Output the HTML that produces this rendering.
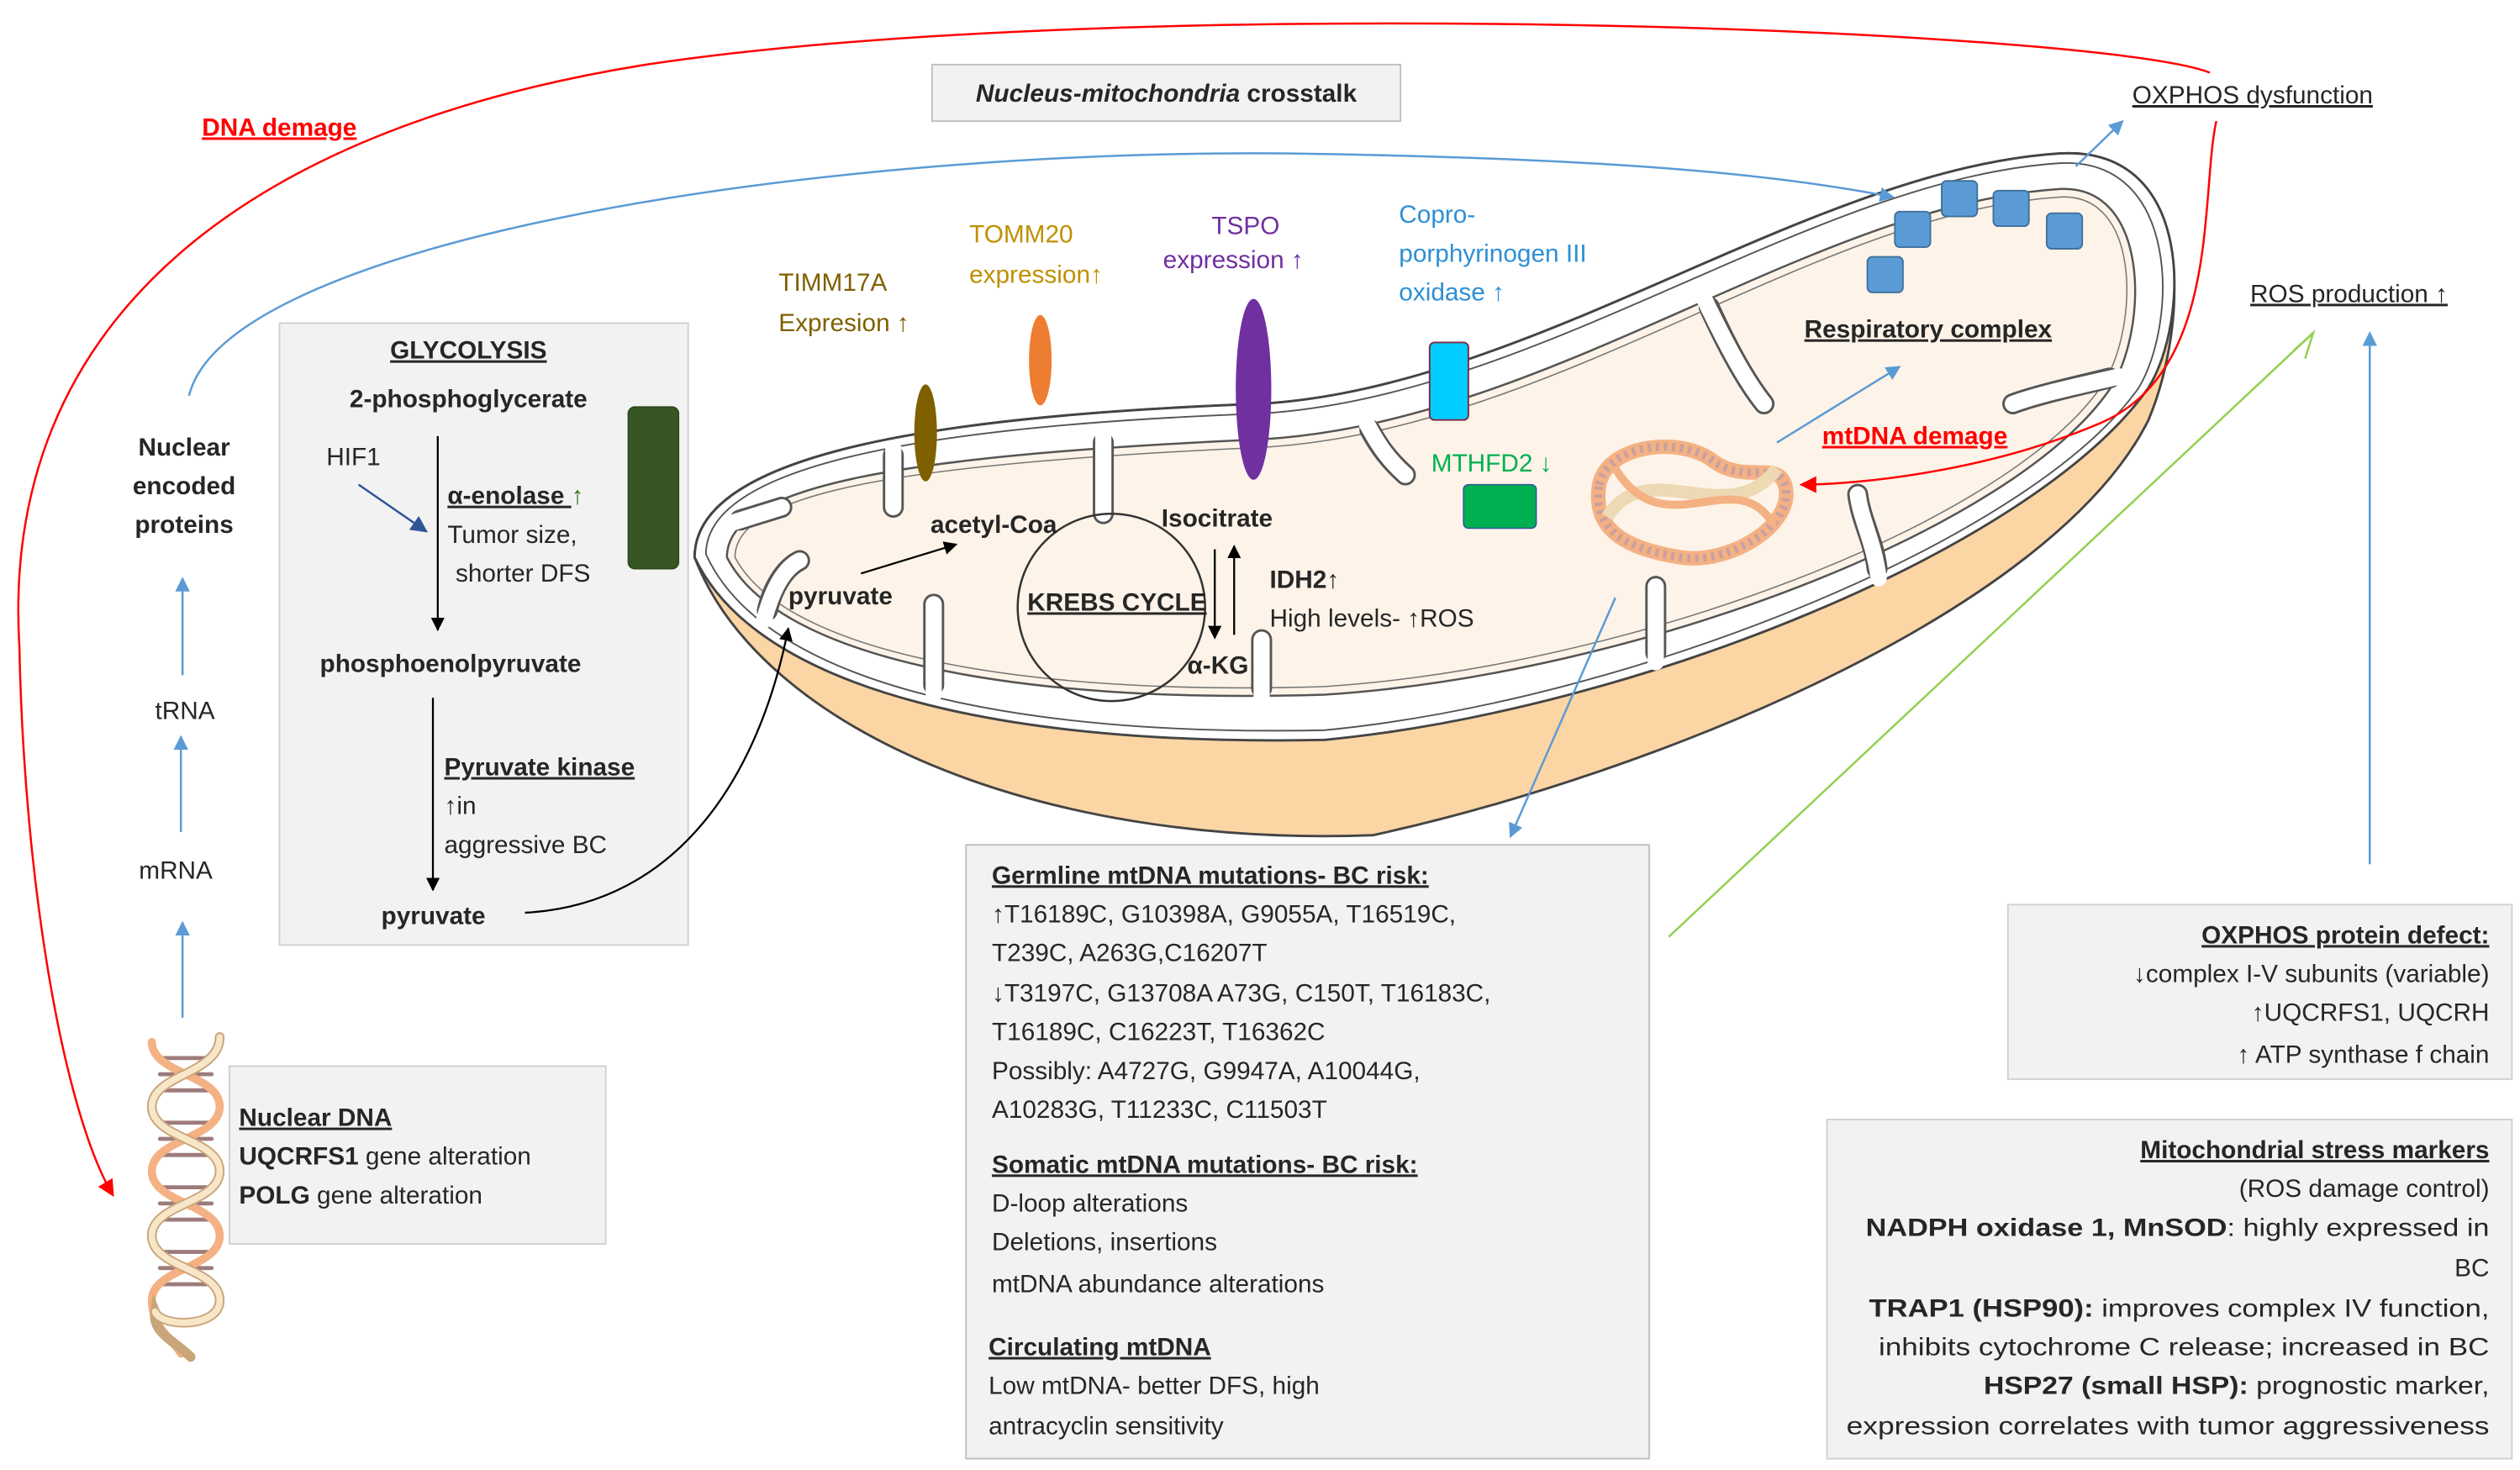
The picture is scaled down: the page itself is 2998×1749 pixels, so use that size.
<!DOCTYPE html>
<html><head><meta charset="utf-8"><style>
html,body{margin:0;padding:0;background:#fff;}
svg{display:block;}
text{font-family:"Liberation Sans",sans-serif;font-size:15.5px;fill:#262626;}
.b{font-weight:bold;}
.u{text-decoration:underline;}
</style></head><body>
<svg width="2998" height="1749" viewBox="0 0 1560 910" preserveAspectRatio="none" xmlns="http://www.w3.org/2000/svg">
<defs>
<marker id="ab" viewBox="0 0 10 10" refX="9" refY="5" markerWidth="7" markerHeight="7" orient="auto"><path d="M0,0L10,5L0,10z" fill="#5b9bd5"/></marker>
<marker id="ak" viewBox="0 0 10 10" refX="9" refY="5" markerWidth="7" markerHeight="7" orient="auto"><path d="M0,0L10,5L0,10z" fill="#000"/></marker>
<marker id="ar" viewBox="0 0 10 10" refX="9" refY="5" markerWidth="8" markerHeight="8" orient="auto"><path d="M0,0L10,5L0,10z" fill="#f00"/></marker>
<marker id="ad" viewBox="0 0 10 10" refX="9" refY="5" markerWidth="8" markerHeight="8" orient="auto"><path d="M0,0L10,5L0,10z" fill="#2f5597"/></marker>
</defs>

<!-- Mitochondrion -->
<path d="M430 345 C430 285,560 258,780 250 C950 240,1120 105,1275 95 C1360 90,1355 200,1330 260 C1270 380,1020 480,850 517 C640 525,470 450,430 345Z" fill="#fcd5a5" stroke="#444" stroke-width="1.5"/>
<path d="M430 345 C430 285,560 258,780 250 C950 240,1120 105,1275 95 C1360 90,1355 200,1330 240 C1260 340,1010 440,820 458 C630 462,470 430,430 345Z" fill="#fff" stroke="#444" stroke-width="1.5"/>
<path d="M437 343 C437 290,562 264,780 256 C953 246,1121 111,1275 101 C1350 97,1348 200,1324 240 C1257 335,1008 434,820 452 C632 456,474 425,437 343Z" fill="none" stroke="#555" stroke-width="1"/>
<!-- matrix -->
<path d="M450 345 C450 300,560 282,780 272 C960 262,1120 127,1275 117 C1330 114,1330 200,1308 238 C1250 328,1010 418,820 430 C630 436,482 408,450 345Z" fill="#fdf3e8" stroke="#555" stroke-width="1.3"/>
<path d="M455 345 C455 304,562 287,780 277 C962 267,1122 132,1275 122 C1325 119,1324 200,1303 236 C1246 324,1008 413,820 425 C632 431,486 404,455 345Z" fill="none" stroke="#777" stroke-width="0.8"/>
<!-- cristae -->
<g fill="none" stroke-linecap="round">
<g stroke="#555" stroke-width="13">
<path d="M553 282 L553 314"/>
<path d="M683 274 L683 318"/>
<path d="M848 266 C854 277,860 285,870 294"/>
<path d="M1058 190 C1068 212,1080 235,1092 250"/>
<path d="M458 322 L484 314"/>
<path d="M475 378 C478 365,485 352,495 347"/>
<path d="M578 424 L578 374"/>
<path d="M781 426 L781 396"/>
<path d="M1025 404 L1025 363"/>
<path d="M1162 352 C1160 335,1152 322,1150 306"/>
<path d="M1306 234 C1290 238,1262 244,1246 250"/>
</g>
<g stroke="#fff" stroke-width="10">
<path d="M553 278 L553 314"/>
<path d="M683 270 L683 318"/>
<path d="M846 262 C854 277,860 285,870 294"/>
<path d="M1055 185 C1068 212,1080 235,1092 250"/>
<path d="M452 324 L484 314"/>
<path d="M473 384 C478 365,485 352,495 347"/>
<path d="M578 430 L578 374"/>
<path d="M781 432 L781 396"/>
<path d="M1025 410 L1025 363"/>
<path d="M1163 358 C1160 335,1152 322,1150 306"/>
<path d="M1312 233 C1290 238,1262 244,1246 250"/>
</g>
</g>

<!-- respiratory squares -->
<g fill="#5b9bd5" stroke="#41719c" stroke-width="1">
<rect x="1156" y="159" width="22" height="22" rx="3"/>
<rect x="1173" y="131" width="22" height="22" rx="3"/>
<rect x="1202" y="112" width="22" height="22" rx="3"/>
<rect x="1234" y="118" width="22" height="22" rx="3"/>
<rect x="1267" y="132" width="22" height="22" rx="3"/>
</g>
<!-- proteins -->
<ellipse cx="573" cy="268" rx="7" ry="30" fill="#7f6000"/>
<ellipse cx="644" cy="223" rx="7" ry="28" fill="#ed7d31"/>
<ellipse cx="776" cy="241" rx="11" ry="56" fill="#7030a0"/>
<rect x="885" y="212" width="24" height="48" rx="3" fill="#00ccff" stroke="#7f2a44" stroke-width="1"/>
<rect x="906" y="300" width="45" height="27" rx="3" fill="#00b050" stroke="#2f5597" stroke-width="0.8"/>
<!-- mtDNA loop -->
<g fill="none">
<path d="M990 300 C995 275,1040 270,1060 285 C1080 300,1100 285,1105 300 C1112 325,1070 350,1040 345 C1010 340,985 330,990 300Z" stroke="#f4b183" stroke-width="9"/>
<path d="M990 300 C995 275,1040 270,1060 285 C1080 300,1100 285,1105 300 C1112 325,1070 350,1040 345 C1010 340,985 330,990 300Z" stroke="#c9a0a0" stroke-width="5" stroke-dasharray="2 3"/>
<path d="M995 320 C1020 280,1070 330,1100 290" stroke="#eed9b5" stroke-width="8"/>
<path d="M1000 290 C1030 340,1075 285,1098 325" stroke="#f4b183" stroke-width="5"/>
</g>
<!-- KREBS -->
<circle cx="688" cy="376" r="58" fill="none" stroke="#333" stroke-width="1.3"/>

<!-- boxes -->
<rect x="577" y="40" width="290" height="35" fill="#f2f2f2" stroke="#bfbfbf"/>
<rect x="173" y="200" width="253" height="385" fill="#f2f2f2" stroke="#d0d0d0"/>
<rect x="389" y="252" width="31" height="100" rx="4" fill="#375623" stroke="#2c4a1c"/>
<rect x="142" y="660" width="233" height="110" fill="#f2f2f2" stroke="#d0d0d0"/>
<rect x="598" y="523" width="423" height="380" fill="#f2f2f2" stroke="#bfbfbf"/>
<rect x="1243" y="560" width="312" height="108" fill="#f2f2f2" stroke="#d0d0d0"/>
<rect x="1131" y="693" width="424" height="210" fill="#f2f2f2" stroke="#d0d0d0"/>

<!-- DNA helix -->
<g fill="none" stroke-linecap="round">
<path d="M101 655h28M99 665h32M99 675h32M101 695h28M99 705h32M99 715h32M101 735h28M99 745h32M99 755h32M101 775h28M99 785h32M99 795h32" stroke="#9e7b7b" stroke-width="2.5"/>
<path d="M94 645 C94 665,136 665,136 685 C136 705,94 705,94 725 C94 745,136 745,136 765 C136 785,94 785,94 805 C94 822,108 830,112 838" stroke="#f4b183" stroke-width="5"/>
<path d="M136 642 C136 665,94 665,94 685 C94 705,136 705,136 725 C136 745,94 745,94 765 C94 785,136 785,136 805 C136 822,100 822,96 812 C94 825,108 830,118 840" stroke="#c9a57a" stroke-width="6"/>
<path d="M136 642 C136 665,94 665,94 685 C94 705,136 705,136 725 C136 745,94 745,94 765 C94 785,136 785,136 805 C136 822,100 822,96 812" stroke="#f8e6c8" stroke-width="4"/>
</g>

<!-- connectors -->
<path d="M1368 45 C1300 18,700 -5,400 40 C150 80,0 200,12 400 C15 550,40 690,70 740" fill="none" stroke="#f00" stroke-width="1.3" marker-end="url(#ar)"/>
<path d="M1372 75 C1362 120,1375 230,1300 262 C1230 292,1150 300,1115 300" fill="none" stroke="#f00" stroke-width="1.3" marker-end="url(#ar)"/>
<path d="M117 245 C140 150,500 92,800 95 C1000 98,1100 108,1172 122" fill="none" stroke="#5b9bd5" stroke-width="1.3" marker-end="url(#ab)"/>
<g stroke="#5b9bd5" stroke-width="1.3" fill="none" marker-end="url(#ab)">
<path d="M1285 103 L1314 75"/>
<path d="M1100 274 L1176 227"/>
<path d="M1000 370 L935 518"/>
<path d="M1467 535 L1467 206"/>
<path d="M113 630 L113 571"/>
<path d="M112 515 L112 456"/>
<path d="M113 418 L113 358"/>
</g>
<path d="M1033 580 L1432 206" stroke="#92d050" stroke-width="1.3" fill="none"/>
<path d="M1420 217 L1432 206 L1427 222" stroke="#92d050" fill="none" stroke-width="1.3"/>
<path d="M222 300 L264 329" stroke="#2f5597" stroke-width="1.3" marker-end="url(#ad)"/>
<g stroke="#000" stroke-width="1.2" fill="none" marker-end="url(#ak)">
<path d="M271 270 L271 390"/>
<path d="M268 432 L268 551"/>
<path d="M325 565 C420 560,470 480,488 389"/>
<path d="M533 355 L592 337"/>
<path d="M752 340 L752 395"/>
<path d="M764 393 L764 338"/>
</g>

<!-- texts -->
<text x="125" y="84" class="b u" style="fill:#f00">DNA demage</text>
<text x="722" y="63" text-anchor="middle" class="b"><tspan font-style="italic">Nucleus-mitochondria</tspan> crosstalk</text>
<text x="1320" y="64" class="u">OXPHOS dysfunction</text>
<text x="1393" y="187" class="u">ROS production ↑</text>
<text x="114" y="282" text-anchor="middle" class="b">Nuclear</text>
<text x="114" y="306" text-anchor="middle" class="b">encoded</text>
<text x="114" y="330" text-anchor="middle" class="b">proteins</text>
<text x="96" y="445">tRNA</text>
<text x="86" y="544">mRNA</text>

<text x="290" y="222" text-anchor="middle" class="b u">GLYCOLYSIS</text>
<text x="290" y="252" text-anchor="middle" class="b">2-phosphoglycerate</text>
<text x="202" y="288">HIF1</text>
<text x="277" y="312" class="b"><tspan class="u">α-enolase </tspan><tspan style="fill:#38761d">↑</tspan></text>
<text x="277" y="336">Tumor size,</text>
<text x="282" y="360">shorter DFS</text>
<text x="198" y="416" class="b">phosphoenolpyruvate</text>
<text x="275" y="480" class="b u">Pyruvate kinase</text>
<text x="275" y="504">↑in</text>
<text x="275" y="528">aggressive BC</text>
<text x="236" y="572" class="b">pyruvate</text>

<text x="148" y="697" class="b u">Nuclear DNA</text>
<text x="148" y="721"><tspan class="b">UQCRFS1</tspan> gene alteration</text>
<text x="148" y="745"><tspan class="b">POLG</tspan> gene alteration</text>

<g style="font-size:16px">
<text x="482" y="180" style="fill:#7f6000">TIMM17A</text>
<text x="482" y="205" style="fill:#7f6000">Expresion ↑</text>
<text x="600" y="150" style="fill:#bf9000">TOMM20</text>
<text x="600" y="175" style="fill:#bf9000">expression↑</text>
<text x="750" y="145" style="fill:#7030a0">TSPO</text>
<text x="720" y="166" style="fill:#7030a0">expression ↑</text>
<text x="866" y="138" style="fill:#2e8fd6">Copro-</text>
<text x="866" y="162" style="fill:#2e8fd6">porphyrinogen III</text>
<text x="866" y="186" style="fill:#2e8fd6">oxidase ↑</text>
<text x="886" y="292" style="fill:#00b050">MTHFD2 ↓</text>
</g>
<text x="1117" y="209" class="b u">Respiratory complex</text>
<text x="1128" y="275" class="b u" style="fill:#f00">mtDNA demage</text>
<text x="576" y="330" class="b">acetyl-Coa</text>
<text x="719" y="326" class="b">Isocitrate</text>
<text x="488" y="374" class="b">pyruvate</text>
<text x="636" y="378" class="b u">KREBS CYCLE</text>
<text x="786" y="364" class="b">IDH2↑</text>
<text x="786" y="388">High levels- ↑ROS</text>
<text x="735" y="417" class="b">α-KG</text>

<text x="614" y="547" class="b u">Germline mtDNA mutations- BC risk:</text>
<text x="614" y="571">↑T16189C, G10398A, G9055A, T16519C,</text>
<text x="614" y="595">T239C, A263G,C16207T</text>
<text x="614" y="620">↓T3197C, G13708A A73G, C150T, T16183C,</text>
<text x="614" y="644">T16189C, C16223T, T16362C</text>
<text x="614" y="668">Possibly: A4727G, G9947A, A10044G,</text>
<text x="614" y="692">A10283G, T11233C, C11503T</text>
<text x="614" y="726" class="b u">Somatic mtDNA mutations- BC risk:</text>
<text x="614" y="750">D-loop alterations</text>
<text x="614" y="774">Deletions, insertions</text>
<text x="614" y="800">mtDNA abundance alterations</text>
<text x="612" y="839" class="b u">Circulating mtDNA</text>
<text x="612" y="863">Low mtDNA- better DFS, high</text>
<text x="612" y="888">antracyclin sensitivity</text>

<g text-anchor="end">
<text x="1541" y="584" class="b u">OXPHOS protein defect:</text>
<text x="1541" y="608">↓complex I-V subunits (variable)</text>
<text x="1541" y="632">↑UQCRFS1, UQCRH</text>
<text x="1541" y="658">↑ ATP synthase f chain</text>
<text x="1541" y="717" class="b u">Mitochondrial stress markers</text>
<text x="1541" y="741">(ROS damage control)</text>
<text x="1541" y="765" textLength="386" lengthAdjust="spacingAndGlyphs"><tspan class="b">NADPH oxidase 1, MnSOD</tspan>: highly expressed in</text>
<text x="1541" y="790">BC</text>
<text x="1541" y="815" textLength="384" lengthAdjust="spacingAndGlyphs"><tspan class="b">TRAP1 (HSP90):</tspan> improves complex IV function,</text>
<text x="1541" y="839" textLength="378" lengthAdjust="spacingAndGlyphs">inhibits cytochrome C release; increased in BC</text>
<text x="1541" y="863" textLength="313" lengthAdjust="spacingAndGlyphs"><tspan class="b">HSP27 (small HSP):</tspan> prognostic marker,</text>
<text x="1541" y="888" textLength="398" lengthAdjust="spacingAndGlyphs">expression correlates with tumor aggressiveness</text>
</g>
</svg>
</body></html>
